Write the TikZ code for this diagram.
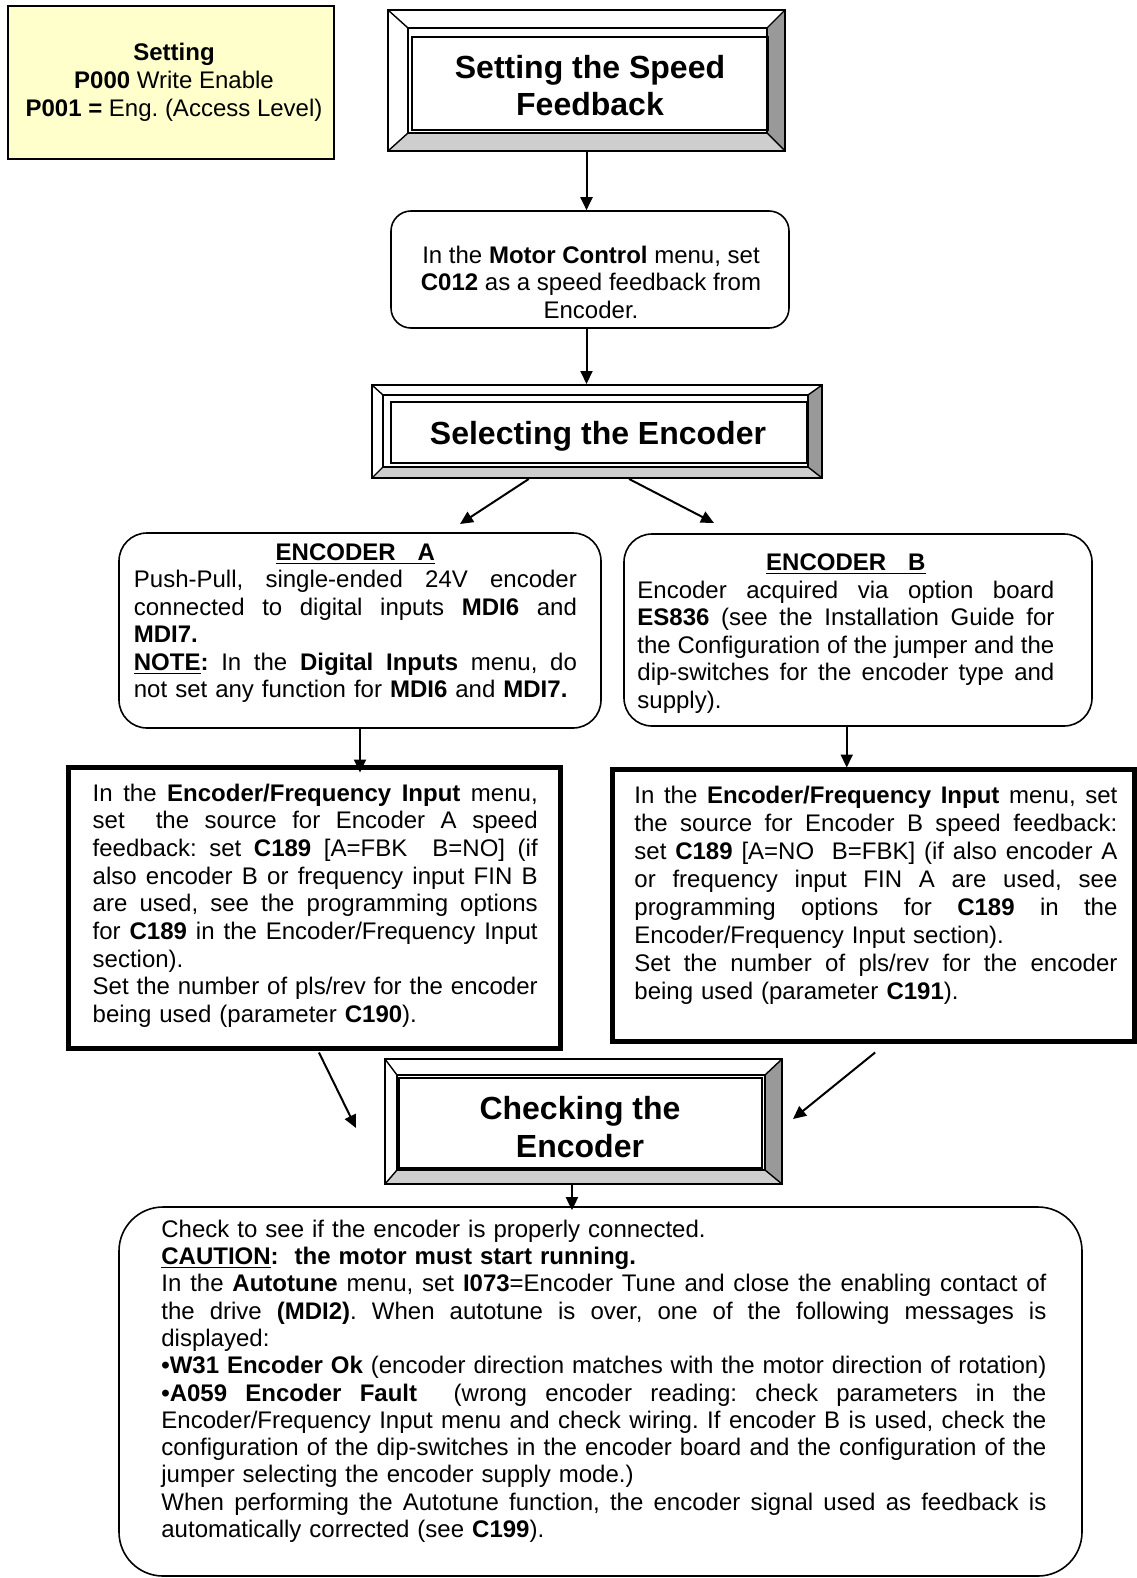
\documentclass[tikz,border=0pt]{standalone}
\usepackage{fontspec}
\setmainfont{Liberation Sans}
\usetikzlibrary{arrows.meta,calc,fit}
\definecolor{notebg}{RGB}{255,255,204}
\definecolor{facetR}{RGB}{153,153,153}
\definecolor{facetB}{RGB}{206,206,206}
\setlength{\parindent}{0pt}
\frenchspacing
\newcommand{\jl}[1]{\makebox[\hsize][s]{\spaceskip=0pt\xspaceskip=0pt #1}\\}
\newcommand{\cl}[1]{\makebox[\hsize][c]{#1}\\}
\newcommand{\fs}{\rule{0pt}{9pt}}
\newcommand{\tfs}{\rule{0pt}{12pt}}
\newcommand{\mkbox}[6]{\path (#2,#3) coordinate (#1-nw) (#4,#5) coordinate (#1-se); \node[fit=(#1-nw)(#1-se),inner sep=0pt,#6] (#1) {};}
\newcommand{\bevelbox}[9]{%
  \fill[white] (#2,#3) rectangle (#4,#5);
  \fill[facetR] (#4,#3) -- (#8,#7) -- (#8,#9) -- (#4,#5) -- cycle;
  \fill[facetB] (#2,#5) -- (#6,#9) -- (#8,#9) -- (#4,#5) -- cycle;
  \draw[line width=0.7pt] (#2,#3) -- (#6,#7) (#4,#3) -- (#8,#7) (#2,#5) -- (#6,#9) (#4,#5) -- (#8,#9);
  \draw[line width=0.7pt] (#6,#7) rectangle (#8,#9);
  \mkbox{#1}{#2}{#3}{#4}{#5}{draw,line width=1pt}}
\begin{document}
\begin{tikzpicture}[x=0.5pt,y=-0.5pt,
  arr/.style={line width=1pt,-{Triangle[length=6.5pt,width=6pt]}},
  rbox/.style={draw,line width=0.8pt,fill=white},
  heavybox/.style={draw,line width=2.5pt},
  body/.style={inner sep=0pt},
  ttl/.style={inner sep=0pt,align=center,font=\fontsize{16}{18}\selectfont\bfseries},
]
\useasboundingbox (0,0) rectangle (1136,1578);

% yellow note
\mkbox{setb}{8}{6}{334}{159}{draw,line width=1pt,fill=notebg}
\node[inner sep=0pt,align=center,anchor=north,font=\fontsize{12}{14}\selectfont] (sett) at (174,42) {\fs\textbf{Setting}\\\textbf{P000} Write Enable\\\textbf{P001 =} Eng. (Access Level)};

% title 1
\bevelbox{t1}{388}{10}{785}{151}{408}{28}{767}{133}
\draw[line width=0.6pt] (412,37) rectangle (768,130);
\node[ttl,anchor=north,font=\fontsize{16}{18.5}\selectfont\bfseries] (t1t) at (590,54) {\tfs Setting the Speed\\Feedback};

% motor control
\mkbox{motor}{391}{211}{789}{328}{rbox,rounded corners=10pt}
\node[inner sep=0pt,align=center,anchor=north,font=\fontsize{12}{13.75}\selectfont] (motort) at (591,245) {\fs In the \textbf{Motor Control} menu, set\\\textbf{C012} as a speed feedback from\\Encoder.};

% selecting
\bevelbox{sel}{372}{385}{822}{478}{383}{395}{808}{467}
\draw[line width=0.6pt] (391,402) rectangle (807,463);
\node[ttl,anchor=base] (selt) at (598,444) {Selecting the Encoder};

% encoder A
\mkbox{encA}{119}{533}{601}{728}{rbox,rounded corners=14pt}
\node[body,anchor=north west,text width=221.5pt,font=\fontsize{12}{13.7}\selectfont] (encAt) at (133.5,542) {%
\cl{\fs\underline{\textbf{ENCODER\hspace{11pt}A}}}%
\jl{Push-Pull, single-ended 24V encoder}%
\jl{connected to digital inputs \textbf{MDI6} and}%
\textbf{MDI7.}\\
\jl{\underline{\textbf{NOTE}}\textbf{:} In the \textbf{Digital Inputs} menu, do}%
not set any function for \textbf{MDI6} and \textbf{MDI7.}};

% encoder B
\mkbox{encB}{624}{534}{1092}{726}{rbox,rounded corners=14pt}
\node[body,anchor=north west,text width=208.5pt,font=\fontsize{12}{13.8}\selectfont] (encBt) at (637,552) {%
\cl{\fs\underline{\textbf{ENCODER\hspace{11pt}B}}}%
\jl{Encoder acquired via option board}%
\jl{\textbf{ES836} (see the Installation Guide for}%
\jl{the Configuration of the jumper and the}%
\jl{dip-switches for the encoder type and}%
supply).};

% A2
\mkbox{A2}{68}{767}{560}{1048}{heavybox}
\node[body,anchor=north west,text width=222.5pt,font=\fontsize{12}{13.85}\selectfont] (A2t) at (92.3,782.6) {%
\jl{\fs In the \textbf{Encoder/Frequency Input} menu,}%
\jl{set\ \ the source for Encoder A speed}%
\jl{feedback: set \textbf{C189} [A=FBK\ \ B=NO] (if}%
\jl{also encoder B or frequency input FIN B}%
\jl{are used, see the programming options}%
\jl{for \textbf{C189} in the Encoder/Frequency Input}%
section).\\
\jl{Set the number of pls/rev for the encoder}%
being used (parameter \textbf{C190}).};

% B2
\mkbox{B2}{612}{769}{1134}{1041}{heavybox}
\node[body,anchor=north west,text width=241.5pt,font=\fontsize{12}{14}\selectfont] (B2t) at (634,785) {%
\jl{\fs In the \textbf{Encoder/Frequency Input} menu, set}%
\jl{the source for Encoder B speed feedback:}%
\jl{set \textbf{C189} [A=NO\ \ B=FBK] (if also encoder A}%
\jl{or frequency input FIN A are used, see}%
\jl{programming options for \textbf{C189} in the}%
Encoder/Frequency Input section).\\
\jl{Set the number of pls/rev for the encoder}%
being used (parameter \textbf{C191}).};

% checking
\bevelbox{chk}{385}{1059}{782}{1184}{397}{1075}{765}{1170}
\draw[line width=0.6pt] (399,1078) rectangle (762,1168);
\node[ttl,anchor=north,font=\fontsize{16}{19}\selectfont\bfseries] (chkt) at (580,1095.5) {\tfs Checking the\\Encoder};

% bottom box
\mkbox{bot}{119}{1207}{1082}{1576}{rbox,rounded corners=22pt}
\node[body,anchor=north west,text width=442.5pt,font=\fontsize{12}{13.64}\selectfont] (bott) at (161,1219) {%
\fs Check to see if the encoder is properly connected.\\
\textbf{\underline{CAUTION}:\ \ the motor must start running.}\\
\jl{In the \textbf{Autotune} menu, set \textbf{I073}=Encoder Tune and close the enabling contact of}%
\jl{the drive \textbf{(MDI2)}. When autotune is over, one of the following messages is}%
displayed:\\
\jl{\textbf{•W31 Encoder Ok} (encoder direction matches with the motor direction of rotation)}%
\jl{\textbf{•A059 Encoder Fault}\ \ (wrong encoder reading: check parameters in the}%
\jl{Encoder/Frequency Input menu and check wiring. If encoder B is used, check the}%
\jl{configuration of the dip-switches in the encoder board and the configuration of the}%
jumper selecting the encoder supply mode.)\\
\jl{When performing the Autotune function, the encoder signal used as feedback is}%
automatically corrected (see \textbf{C199}).};

% connectors
\coordinate (aS) at ($(sel.south west)!0.349!(sel.south east)$);
\coordinate (bS) at ($(sel.south west)!0.571!(sel.south east)$);
\coordinate (aTip) at (460,524);
\coordinate (bTip) at (714,523);
\coordinate (eB) at ($(encB.south west)!0.476!(encB.south east)$);
\coordinate (a2S) at ($(A2.south west)!0.51!(A2.south east)+(0,2)$);
\coordinate (b2S) at ($(B2.south west)!0.504!(B2.south east)+(0,9)$);
\coordinate (cTipL) at (356,1128);
\coordinate (cTipR) at (793,1119);
\coordinate (cS) at ($(chk.south west)!0.471!(chk.south east)$);
\draw[arr] (t1.south) -- (t1.south |- motor.north);
\draw[arr] (t1.south |- motor.south) -- (t1.south |- sel.north);
\draw[arr] (aS) -- (aTip);
\draw[arr] (bS) -- (bTip);
\draw[arr] (encA.south) -- ($(encA.south |- A2.north)+(0,8)$);
\draw[arr] (eB) -- ($(eB |- B2.north)+(0,1)$);
\draw[arr] (a2S) -- (cTipL);
\draw[arr] (b2S) -- (cTipR);
\draw[arr] (cS) -- ($(cS |- bot.north)+(0,4)$);
\end{tikzpicture}
\end{document}
